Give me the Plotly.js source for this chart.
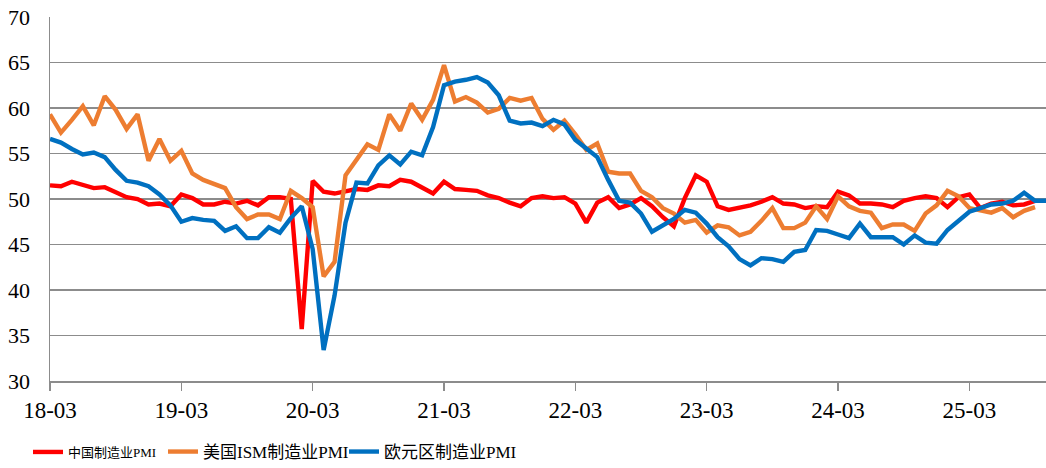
<!DOCTYPE html>
<html><head><meta charset="utf-8">
<script src="https://cdn.plot.ly/plotly-3.0.1.min.js"></script>
<style>html,body{margin:0;padding:0;background:#fff}#chart{width:1046px;height:468px}</style>
</head><body><div id="chart"></div>
<script>
const months = [
'18-03','18-04','18-05','18-06','18-07','18-08','18-09','18-10','18-11','18-12',
'19-01','19-02','19-03','19-04','19-05','19-06','19-07','19-08','19-09','19-10','19-11','19-12',
'20-01','20-02','20-03','20-04','20-05','20-06','20-07','20-08','20-09','20-10','20-11','20-12',
'21-01','21-02','21-03','21-04','21-05','21-06','21-07','21-08','21-09','21-10','21-11','21-12',
'22-01','22-02','22-03','22-04','22-05','22-06','22-07','22-08','22-09','22-10','22-11','22-12',
'23-01','23-02','23-03','23-04','23-05','23-06','23-07','23-08','23-09','23-10','23-11','23-12',
'24-01','24-02','24-03','24-04','24-05','24-06','24-07','24-08','24-09','24-10','24-11','24-12',
'25-01','25-02','25-03','25-04','25-05','25-06','25-07','25-08','25-09','25-10'];

const chinaPMI = [
51.5,51.4,51.9,51.5,51.2,51.3,50.8,50.2,50.0,49.4,
49.5,49.2,50.5,50.1,49.4,49.4,49.7,49.5,49.8,49.3,50.2,50.2,
50.0,35.7,52.0,50.8,50.6,50.9,51.1,51.0,51.5,51.4,52.1,51.9,
51.3,50.6,51.9,51.1,51.0,50.9,50.4,50.1,49.6,49.2,50.1,50.3,
50.1,50.2,49.5,47.4,49.6,50.2,49.0,49.4,50.1,49.2,48.0,47.0,
50.1,52.6,51.9,49.2,48.8,49.0,49.3,49.7,50.2,49.5,49.4,49.0,
49.2,49.1,50.8,50.4,49.5,49.5,49.4,49.1,49.8,50.1,50.3,50.1,
49.1,50.2,50.5,49.0,49.5,49.7,49.3,49.4,49.8];

const usISM = [
59.3,57.3,58.7,60.2,58.1,61.3,59.8,57.7,59.3,54.2,
56.6,54.2,55.3,52.8,52.1,51.7,51.2,49.1,47.8,48.3,48.3,47.8,
50.9,50.1,49.1,41.5,43.1,52.6,54.2,56.0,55.4,59.3,57.5,60.5,
58.7,60.9,64.7,60.7,61.2,60.6,59.5,59.9,61.1,60.8,61.1,58.8,
57.6,58.6,57.1,55.4,56.1,53.0,52.8,52.8,50.9,50.2,49.0,48.4,
47.4,47.7,46.3,47.1,46.9,46.0,46.4,47.6,49.0,46.8,46.8,47.4,
49.2,47.8,50.3,49.2,48.7,48.5,46.8,47.2,47.2,46.5,48.4,49.3,
50.9,50.3,49.0,48.7,48.5,49.0,48.0,48.7,49.1];

const euroPMI = [
56.6,56.2,55.5,54.9,55.1,54.6,53.2,52.0,51.8,51.4,
50.5,49.3,47.5,47.9,47.7,47.6,46.5,47.0,45.7,45.7,46.9,46.3,
47.9,49.2,44.5,33.4,39.4,47.4,51.8,51.7,53.7,54.8,53.8,55.2,
54.8,57.9,62.5,62.9,63.1,63.4,62.8,61.4,58.6,58.3,58.4,58.0,
58.7,58.2,56.5,55.5,54.6,52.1,49.8,49.6,48.4,46.4,47.1,47.8,
48.8,48.5,47.3,45.8,44.8,43.4,42.7,43.5,43.4,43.1,44.2,44.4,
46.6,46.5,46.1,45.7,47.3,45.8,45.8,45.8,45.0,46.0,45.2,45.1,
46.6,47.6,48.6,49.0,49.4,49.5,49.8,50.7,49.8,49.8];

const xTickLabels = ['18-03','19-03','20-03','21-03','22-03','23-03','24-03','25-03'];
const yTickLabels = [30,35,40,45,50,55,60,65,70];
const seriesNames = ['中国制造业PMI','美国ISM制造业PMI','欧元区制造业PMI'];
const seriesColors = ['#FF0000','#ED7D31','#0070C0'];

const serif = 'Liberation Serif, Times New Roman, serif';
const legendFont = 'Liberation Serif, Noto Sans CJK SC, serif';
const gridColor = '#8c8c8c';

const seriesData = [chinaPMI, usISM, euroPMI];
const legendIds = ['legend','legend2','legend3'];
const traces = seriesData.map((vals, i) => ({
  type: 'scatter', mode: 'lines',
  x: months.slice(0, vals.length), y: vals,
  name: seriesNames[i],
  line: {color: seriesColors[i], width: 4.4},
  legend: legendIds[i],
  hoverinfo: 'x+y+name'
}));

function legendAt(xpx, size) {
  return {
    orientation: 'h', xref: 'container', yref: 'container',
    x: xpx / 1046, y: 1 - 452 / 468, xanchor: 'left', yanchor: 'middle',
    bgcolor: 'rgba(0,0,0,0)', borderwidth: 0,
    font: {family: legendFont, size: size, color: '#000'}
  };
}

const layout = {
  width: 1046, height: 468,
  margin: {l: 50, r: 0, t: 17, b: 87, pad: 0},
  paper_bgcolor: '#fff', plot_bgcolor: '#fff',
  showlegend: true,
  xaxis: {
    type: 'category', range: [0, 91],
    tickmode: 'array', tickvals: xTickLabels, ticktext: xTickLabels,
    ticks: 'outside', ticklen: 8, tickwidth: 1.5, tickcolor: gridColor,
    showgrid: false, zeroline: false,
    showline: true, linecolor: gridColor, linewidth: 1.5,
    tickfont: {family: serif, size: 23, color: '#000'},
    tickangle: 0
  },
  yaxis: {
    range: [30, 70], tickmode: 'array', tickvals: yTickLabels, ticktext: yTickLabels.map(String),
    showgrid: true, gridcolor: gridColor, gridwidth: 1.5,
    zeroline: false, showline: true, linecolor: gridColor, linewidth: 1.5,
    ticks: '', ticklabelstandoff: 14,
    tickfont: {family: serif, size: 22, color: '#000'}
  },
  legend: legendAt(28, 13),
  legend2: legendAt(163, 17),
  legend3: legendAt(344, 17)
};

Plotly.newPlot('chart', traces, layout, {displayModeBar: false, staticPlot: true});
</script>
</body></html>
